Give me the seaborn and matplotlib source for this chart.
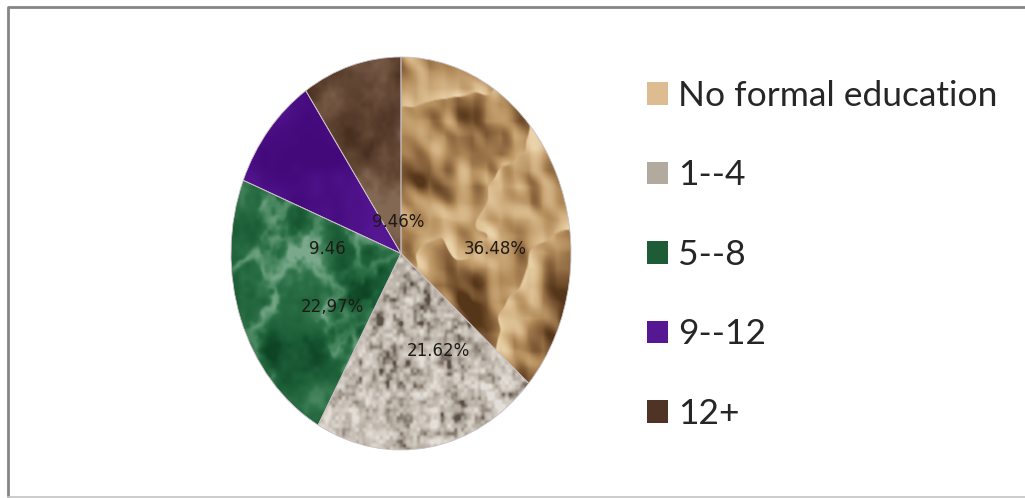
import numpy as np
import matplotlib
matplotlib.use("Agg")
import matplotlib.pyplot as plt
import seaborn as sns
from matplotlib.patches import Patch
from matplotlib.lines import Line2D
from matplotlib.colors import LinearSegmentedColormap

sns.set_style("white")

# Years of schooling of respondents (share of sample, %)
categories = ["No formal education", "1--4", "5--8", "9--12", "12+"]
shares = [36.48, 21.62, 22.97, 9.46, 9.46]
share_labels = ["36.48%", "21.62%", "22,97%", "9.46", "9.46%"]

# where each share label sits inside the pie (unit-radius coordinates)
label_xy = [(0.556, 0.023), (0.222, -0.494), (-0.404, -0.271),
            (-0.433, 0.023), (-0.018, 0.159)]

legend_colors = ["#dcbc90", "#b3aa9f", "#1d5c36", "#561793", "#4f3324"]

W, H = 1025, 498
fig = plt.figure(figsize=(W / 100, H / 100), dpi=100)
fig.patch.set_facecolor("white")


# ---------- surface textures for the slices ----------
def value_noise(n, cells, seed):
    g = np.arange(cells + 2, dtype=float)
    gx, gy = np.meshgrid(g, g)
    lat = np.sin(gx * 12.9898 + gy * 78.233 + seed * 4.1414) * 43758.5453
    lat = lat - np.floor(lat)
    t = np.linspace(0, cells, n, endpoint=False)
    i = t.astype(int)
    f = t - i
    f = f * f * (3 - 2 * f)
    a = lat[np.ix_(i, i)]
    b = lat[np.ix_(i, i + 1)]
    c = lat[np.ix_(i + 1, i)]
    d = lat[np.ix_(i + 1, i + 1)]
    fx = f[None, :]
    fy = f[:, None]
    return (a * (1 - fx) + b * fx) * (1 - fy) + (c * (1 - fx) + d * fx) * fy


def fbm(n, base, octaves, seed, gain=0.5):
    total = np.zeros((n, n))
    amp, norm = 1.0, 0.0
    for k in range(octaves):
        total += amp * value_noise(n, base * 2 ** k, seed + 7 * k)
        norm += amp
        amp *= gain
    return total / norm


def normalize(v):
    lo, hi = np.percentile(v, 1), np.percentile(v, 99)
    return np.clip((v - lo) / (hi - lo), 0, 1)


N = 400
# crumpled paper: shaded ridged relief with broad folds
h = 1 - np.abs(2 * fbm(N, 3, 4, 11, 0.45) - 1)
gy_, gx_ = np.gradient(h)
shade = normalize(-(gx_ * 1.0 + gy_ * 0.7))
paper = normalize(0.6 * shade + 0.4 * normalize(h))
paper_cmap = LinearSegmentedColormap.from_list(
    "paper", ["#563619", "#85603a", "#b48d5c", "#d3b283", "#ead3aa"])

# granite: fine speckle
gran = normalize(0.65 * fbm(N, 50, 2, 23, 0.7) + 0.35 * fbm(N, 12, 3, 31))
gran = gran ** 0.8
granite_cmap = LinearSegmentedColormap.from_list(
    "granite", ["#5a5048", "#8f857b", "#b7aea4", "#cfc8bf", "#e4dfd8"])

# green marble: cloudy mottling with soft light veins
m = fbm(N, 5, 5, 41)
veins = np.exp(-((m - 0.5) / 0.045) ** 2)
marble = normalize(0.25 * veins + 0.75 * fbm(N, 8, 4, 53, 0.6))
marble_cmap = LinearSegmentedColormap.from_list(
    "marble", ["#0e4424", "#1b5d36", "#2b6f46", "#4f8c66", "#7aa98b"])

# purple velvet
velvet = normalize(fbm(N, 4, 4, 61))
velvet_cmap = LinearSegmentedColormap.from_list(
    "velvet", ["#43097a", "#5a1a98", "#6c28ad"])

# brown mottled
mottle = normalize(fbm(N, 5, 5, 71, 0.6))
mottle_cmap = LinearSegmentedColormap.from_list(
    "mottle", ["#34200f", "#4c3222", "#664a37", "#836853"])

textures = [paper_cmap(paper), granite_cmap(gran), marble_cmap(marble),
            velvet_cmap(velvet), mottle_cmap(mottle)]

# ---------- pie ----------
ax = fig.add_axes([231 / W, (H - 450) / H, 340 / W, 393 / H])
wedges, _ = ax.pie(shares, startangle=90, counterclock=False,
                   colors=legend_colors,
                   wedgeprops=dict(edgecolor="#c9bfc4", linewidth=0.6))
ax.set_aspect("auto")

for w, tex in zip(wedges, textures):
    im = ax.imshow(tex, extent=(-1, 1, -1, 1), aspect="auto",
                   interpolation="bilinear", zorder=2, origin="lower")
    im.set_clip_path(w)
    w.set_facecolor("none")
    w.set_zorder(3)
    w.set_clip_on(False)

for txt, (x, y) in zip(share_labels, label_xy):
    ax.text(x, y, txt, ha="center", va="center", fontsize=12,
            family="DejaVu Sans", color="#1f1a16", zorder=4)

ax.set_xlim(-1, 1)
ax.set_ylim(-1, 1)
ax.axis("off")

# ---------- legend ----------
handles = [Patch(facecolor=c, edgecolor="none") for c in legend_colors]
fig.legend(handles, categories, loc="upper left",
           bbox_to_anchor=(647 / W, 1 - 80 / H),
           frameon=False, prop=dict(family="Lato", size=25.5),
           handlelength=0.6, handleheight=0.6, handletextpad=0.28,
           labelspacing=1.34, borderpad=0, borderaxespad=0)

# ---------- outer frame ----------
fig.add_artist(Line2D([7.5 / W, 7.5 / W, 1.0], [1 - 496 / H, 1 - 7.5 / H, 1 - 7.5 / H],
                      transform=fig.transFigure, color="#858585", lw=2.0))
fig.add_artist(Line2D([7.5 / W, 1.0], [1 - 496.5 / H, 1 - 496.5 / H],
                      transform=fig.transFigure, color="#c4c4c4", lw=1.2))

fig.savefig("out.png", dpi=100, facecolor="white")
